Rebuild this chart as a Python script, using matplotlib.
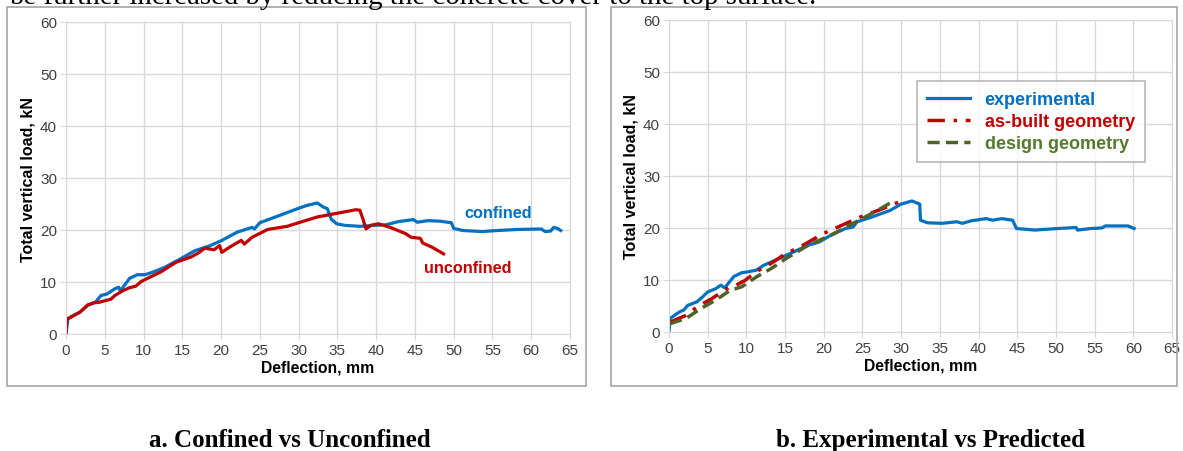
import matplotlib.pyplot as plt
from matplotlib.patches import Rectangle

# Dados (deflexão em mm, carga em kN)
conf_x = [0, 0.25, 0.85, 1.8, 2.8, 3.8, 4.5, 5.3, 6.3, 6.8, 7.0, 8.2, 9.2, 10.2, 11.2, 12.7, 14.7, 16.6,
          18.6, 20.1, 22.1, 24.0, 24.3, 25.0, 27.0, 29.5, 31.0, 32.4, 33.2, 33.7, 34.2, 34.9, 35.9, 37.9,
          39.8, 41.3, 42.8, 44.8, 45.3, 46.7, 48.2, 49.7, 50.0, 51.2, 53.7, 55.6, 58.1, 61.3, 61.8, 62.5,
          62.9, 63.4, 63.8]
conf_y = [0, 2.9, 3.5, 4.2, 5.5, 6.1, 7.4, 7.7, 8.7, 9.0, 8.3, 10.7, 11.4, 11.4, 11.9, 12.8, 14.4, 16.0,
          17.0, 18.0, 19.6, 20.5, 20.2, 21.4, 22.5, 23.9, 24.7, 25.2, 24.4, 24.1, 22.1, 21.2, 20.9, 20.7,
          20.9, 21.0, 21.6, 22.0, 21.5, 21.8, 21.7, 21.4, 20.3, 19.9, 19.7, 19.9, 20.1, 20.2, 19.7, 19.8,
          20.5, 20.3, 19.9]

unconf_x = [0, 0.1, 0.6, 1.8, 2.8, 3.6, 4.3, 5.0, 5.8, 6.3, 7.3, 8.2, 9.0, 9.7, 11.2, 12.2, 14.2, 16.1,
            17.1, 17.9, 19.1, 19.8, 20.1, 21.1, 22.6, 23.0, 24.0, 26.0, 28.5, 30.0, 32.4, 34.9, 37.4, 37.9,
            38.3, 38.7, 39.3, 40.3, 41.8, 43.8, 44.5, 45.7, 46.0, 47.2, 48.7]
unconf_y = [0, 2.9, 3.2, 4.2, 5.6, 6.0, 6.1, 6.4, 6.7, 7.4, 8.3, 8.9, 9.2, 10.1, 11.2, 11.9, 13.8, 14.8,
            15.6, 16.5, 16.2, 17.0, 15.7, 16.7, 18.0, 17.3, 18.6, 20.1, 20.7, 21.4, 22.5, 23.2, 23.9, 23.8,
            22.1, 20.2, 20.9, 21.2, 20.5, 19.3, 18.6, 18.4, 17.5, 16.7, 15.4]

exp_x = [0, 0.15, 0.7, 1.4, 1.9, 2.4, 3.6, 4.3, 5.0, 6.0, 6.7, 7.2, 8.4, 9.4, 10.3, 11.3, 12.2, 14.2,
         16.1, 18.0, 19.4, 20.9, 22.8, 23.8, 24.3, 26.2, 28.6, 30.0, 31.4, 32.4, 32.5, 33.4, 35.3, 37.2,
         37.9, 39.1, 41.0, 41.8, 43.0, 44.4, 44.9, 47.3, 50.2, 52.6, 52.8, 54.5, 55.9, 56.4, 59.3, 60.1]
exp_y = [0, 2.6, 3.2, 3.9, 4.2, 5.1, 5.8, 6.7, 7.7, 8.3, 9.0, 8.5, 10.7, 11.4, 11.6, 11.9, 12.8, 14.1,
         15.4, 16.7, 17.3, 18.6, 19.9, 20.2, 21.2, 22.1, 23.4, 24.6, 25.2, 24.6, 21.5, 21.0, 20.9, 21.2,
         20.9, 21.4, 21.8, 21.5, 21.8, 21.5, 19.9, 19.6, 19.9, 20.1, 19.6, 19.9, 20.0, 20.4, 20.4, 19.9]

asbuilt_x = [0.15, 2.2, 3.6, 5.5, 7.7, 8.4, 9.8, 11.3, 13.2, 15.1, 17.1, 19.9, 22.3, 24.7, 27.6, 30.0]
asbuilt_y = [1.9, 3.2, 4.8, 6.4, 8.5, 8.8, 9.9, 11.6, 13.2, 15.1, 16.5, 18.9, 20.5, 22.1, 23.7, 25.2]

design_x = [0.15, 2.2, 4.1, 6.0, 7.9, 9.4, 11.3, 13.2, 15.1, 18.0, 20.9, 23.8, 26.6, 28.8]
design_y = [1.6, 2.6, 4.5, 6.1, 8.0, 8.7, 10.6, 12.2, 14.1, 16.7, 18.6, 20.9, 23.1, 25.0]

azul = '#0070C0'
vermelho = '#C00000'
verde = '#4F6228'
cinza_grade = '#D9D9D9'

W, H = 1183, 452
fig = plt.figure(figsize = (W / 100, H / 100), dpi = 100)
plt.rcParams['font.family'] = ['Liberation Sans', 'DejaVu Sans']


def px(x0, y0, x1, y1):
    # converte caixa em pixels (topo à esquerda) para fração da figura
    return [x0 / W, 1 - y1 / H, (x1 - x0) / W, (y1 - y0) / H]


def formatar(ax):
    ax.set_xlim(0, 65)
    ax.set_ylim(0, 60)
    ax.set_xticks(range(0, 66, 5))
    ax.set_yticks(range(0, 61, 10))
    ax.grid(True, color = cinza_grade, linewidth = 1)
    ax.set_axisbelow(True)
    for s in ax.spines.values():
        s.set_color(cinza_grade)
    ax.tick_params(length = 4, color = cinza_grade, labelsize = 11, labelcolor = '#404040', pad = 2.5)
    ax.set_xlabel('Deflection, mm', fontsize = 11.3, fontweight = 'bold', labelpad = 2)
    ax.set_ylabel('Total vertical load, kN', fontsize = 11.5, fontweight = 'bold', labelpad = 3)


# molduras cinzas das duas figuras
fig.patches.append(Rectangle((7 / W, 1 - 387 / H), 579 / W, 379 / H, transform = fig.transFigure,
                             fill = False, edgecolor = '#A6A6A6', linewidth = 1.2))
fig.patches.append(Rectangle((611 / W, 1 - 387 / H), 566 / W, 379 / H, transform = fig.transFigure,
                             fill = False, edgecolor = '#A6A6A6', linewidth = 1.2))

#Gráfico a: confinado vs não confinado
ax1 = fig.add_axes(px(66, 23, 570, 335))
formatar(ax1)
ax1.plot(conf_x, conf_y, color = azul, linewidth = 2.3)
ax1.plot(unconf_x, unconf_y, color = vermelho, linewidth = 2.3)
ax1.text(55.8, 23.4, 'confined', color = azul, fontsize = 11.7, fontweight = 'bold', ha = 'center', va = 'center')
ax1.text(51.8, 12.8, 'unconfined', color = vermelho, fontsize = 11.7, fontweight = 'bold', ha = 'center', va = 'center')

#Gráfico b: experimental vs previsto
ax2 = fig.add_axes(px(669, 21, 1172, 333))
formatar(ax2)
ax2.plot(exp_x, exp_y, color = azul, linewidth = 2.3, label = 'experimental')
ax2.plot(asbuilt_x, asbuilt_y, color = vermelho, linewidth = 2.5, linestyle = (0, (5, 2.5, 1, 2.5)),
         label = 'as-built geometry')
ax2.plot(design_x, design_y, color = verde, linewidth = 2.5, linestyle = (0, (3.5, 1.8)),
         label = 'design geometry')
leg = ax2.legend(loc = 'upper left', bbox_to_anchor = ((917 - 669) / 503, (333 - 82) / 312),
                 fontsize = 13, frameon = True, fancybox = False, handlelength = 2.4,
                 handletextpad = 0.8, labelspacing = 0.28, borderpad = 0.55, borderaxespad = 0)
leg.get_frame().set_edgecolor('#A6A6A6')
leg.get_frame().set_linewidth(1.2)
for txt, cor in zip(leg.get_texts(), [azul, vermelho, '#557A2E']):
    txt.set_color(cor)
    txt.set_fontweight('bold')

# legendas das figuras e linha de texto cortada no topo
serif = ['Liberation Serif', 'DejaVu Serif']
fig.text(290 / W, 1 - 447 / H, 'a. Confined vs Unconfined', family = serif, fontsize = 18,
         fontweight = 'bold', ha = 'center', va = 'baseline')
fig.text(931 / W, 1 - 447 / H, 'b. Experimental vs Predicted', family = serif, fontsize = 18,
         fontweight = 'bold', ha = 'center', va = 'baseline')
fig.text(9 / W, 1 - 4 / H, 'be further increased by reducing the concrete cover to the top surface.',
         family = serif, fontsize = 20.8, ha = 'left', va = 'baseline')

fig.savefig('out.png', dpi = 100)
